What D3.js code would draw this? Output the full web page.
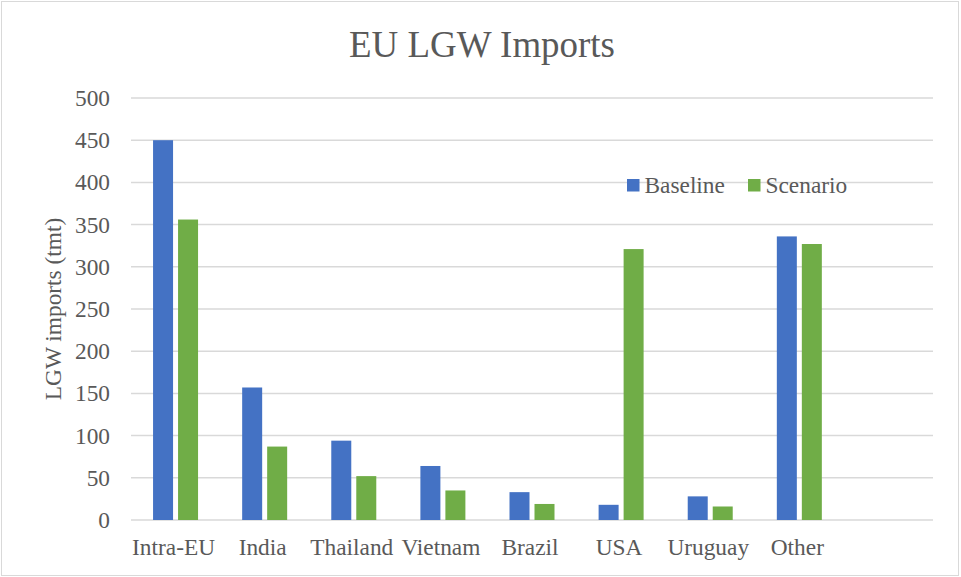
<!DOCTYPE html>
<html>
<head>
<meta charset="utf-8">
<title>EU LGW Imports</title>
<script src="https://d3js.org/d3.v7.min.js"></script>
<style>
  body { margin: 0; background: #fff; }
  svg text { font-family: "Liberation Serif", "Tinos", "Times New Roman", "DejaVu Serif", serif; fill: #595959; }
</style>
</head>
<body>
<svg id="chart" width="961" height="577"></svg>
<script>
var categories = ["Intra-EU", "India", "Thailand", "Vietnam", "Brazil", "USA", "Uruguay", "Other"];
var seriesNames = ["Baseline", "Scenario"];
var baseline = [450, 157, 94, 64, 33, 18, 28, 336];
var scenario = [356, 87, 52, 35, 19, 321, 16, 327];
var yTicks = [0, 50, 100, 150, 200, 250, 300, 350, 400, 450, 500];
var colors = ["#4472C4", "#70AD47"];

var margin = {top: 98, right: 28, bottom: 57, left: 131},
    width = 961 - margin.left - margin.right,
    height = 577 - margin.top - margin.bottom;

var svg = d3.select("#chart");

// pick a font size so that a sample string gets the width seen in the picture
function fitSize(str, target) {
  var t = svg.append("text").attr("font-size", 100).text(str);
  var w = t.node().getComputedTextLength();
  t.remove();
  return 100 * target / w;
}
var fs = fitSize("Intra-EU", 83);
var titleFs = fitSize("EU LGW Imports", 266);

// outer border
svg.append("rect")
  .attr("x", 1.5).attr("y", 1.5)
  .attr("width", 957).attr("height", 574)
  .attr("fill", "none")
  .attr("stroke", "#d9d9d9")
  .attr("stroke-width", 1);

var g = svg.append("g")
  .attr("transform", "translate(" + margin.left + "," + margin.top + ")");

// 9 slots in the axis, the last one stays empty
var slot = width / (categories.length + 1);
var x0 = d3.scaleBand()
  .domain(categories)
  .range([0, slot * categories.length]);

var x1 = d3.scaleBand()
  .domain(seriesNames)
  .range([slot / 2 - 22.5, slot / 2 + 22.5])
  .paddingInner(0.2);

var y = d3.scaleLinear()
  .domain([0, 500])
  .range([height, 0]);

// gridlines
g.append("g")
  .selectAll("line")
  .data(yTicks)
  .enter().append("line")
    .attr("x1", 0)
    .attr("x2", width)
    .attr("y1", function(d) { return y(d); })
    .attr("y2", function(d) { return y(d); })
    .attr("stroke", "#d9d9d9")
    .attr("stroke-width", 1.5);

// y tick labels
g.append("g")
  .selectAll("text")
  .data(yTicks)
  .enter().append("text")
    .attr("x", -21)
    .attr("y", function(d) { return y(d); })
    .attr("dy", "0.34em")
    .attr("text-anchor", "end")
    .attr("font-size", fs)
    .text(function(d) { return d; });

// bars
var rows = categories.map(function(c, i) {
  return {cat: c, values: [baseline[i], scenario[i]]};
});

var group = g.selectAll(".cat")
  .data(rows)
  .enter().append("g")
    .attr("class", "cat")
    .attr("transform", function(d) { return "translate(" + x0(d.cat) + ",0)"; });

group.selectAll("rect")
  .data(function(d) { return d.values.map(function(v, j) { return {name: seriesNames[j], value: v, j: j}; }); })
  .enter().append("rect")
    .attr("x", function(d) { return x1(d.name); })
    .attr("width", x1.bandwidth())
    .attr("y", function(d) { return y(d.value); })
    .attr("height", function(d) { return height - y(d.value); })
    .attr("fill", function(d) { return colors[d.j]; });

// x labels
g.append("g")
  .selectAll("text")
  .data(categories)
  .enter().append("text")
    .attr("x", function(d) { return x0(d) + slot / 2 - 2; })
    .attr("y", height + 35)
    .attr("text-anchor", "middle")
    .attr("font-size", fs)
    .text(function(d) { return d; });

// y axis title
svg.append("text")
  .attr("transform", "translate(61," + (margin.top + height / 2) + ") rotate(-90)")
  .attr("text-anchor", "middle")
  .attr("font-size", fs)
  .text("LGW imports (tmt)");

// title
svg.append("text")
  .attr("x", 482)
  .attr("y", 57)
  .attr("text-anchor", "middle")
  .attr("font-size", titleFs)
  .text("EU LGW Imports");

// legend
var legendX = [627, 748];
var legend = svg.append("g");
seriesNames.forEach(function(s, i) {
  legend.append("rect")
    .attr("x", legendX[i])
    .attr("y", 179)
    .attr("width", 12.5)
    .attr("height", 12.5)
    .attr("fill", colors[i]);
  legend.append("text")
    .attr("x", legendX[i] + 17.5)
    .attr("y", 193)
    .attr("font-size", fs)
    .text(s);
});
</script>
</body>
</html>
